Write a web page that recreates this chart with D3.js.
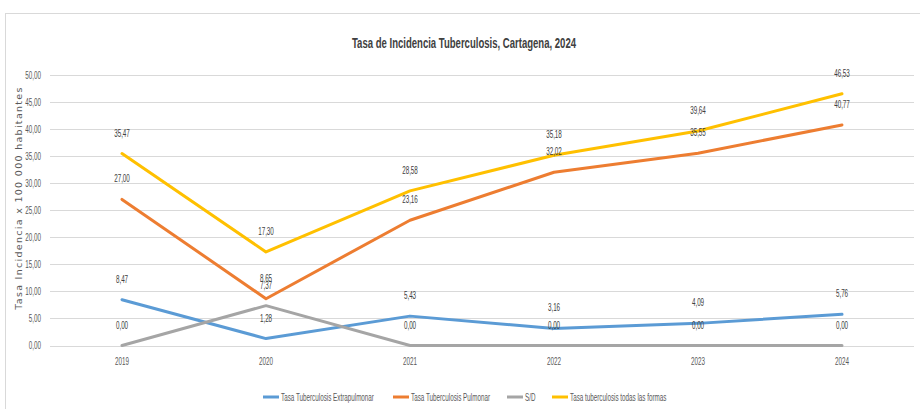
<!DOCTYPE html>
<html>
<head>
<meta charset="utf-8">
<script src="https://cdn.jsdelivr.net/npm/d3@7"></script>
<style>
  body { margin: 0; background: #fff; }
  svg { display: block; }
  text { font-family: "Liberation Sans", Arial, sans-serif; }
</style>
</head>
<body>
<svg id="chart"></svg>
<script>
// datos
var years = ["2019", "2020", "2021", "2022", "2023", "2024"];
var extrapulmonar = [8.47, 1.28, 5.43, 3.16, 4.09, 5.76];
var pulmonar = [27.00, 8.65, 23.16, 32.02, 35.55, 40.77];
var sinDato = [0.00, 7.37, 0.00, 0.00, 0.00, 0.00];
var todas = [35.47, 17.30, 28.58, 35.18, 39.64, 46.53];
var yTicks = [0, 5, 10, 15, 20, 25, 30, 35, 40, 45, 50];

var series = [
  { name: "Tasa Tuberculosis Extrapulmonar", values: extrapulmonar, color: "#5B9BD5" },
  { name: "Tasa Tuberculosis Pulmonar", values: pulmonar, color: "#ED7D31" },
  { name: "S/D", values: sinDato, color: "#A5A5A5" },
  { name: "Tasa tuberculosis todas las formas", values: todas, color: "#FFC000" }
];

var W = 920, H = 409;
var margin = { top: 75, right: 6, bottom: 63, left: 50 };

var SX = 0.6; // la fuente del original es muy estrecha
var FS = "10.5px";

var fmt = function(v) { return v.toFixed(2).replace(".", ","); };

// pasa x/y a un transform con escala horizontal
function squeeze(sel, sx) {
  sel.each(function() {
    var t = d3.select(this);
    var tx = +t.attr("x") || 0, ty = +t.attr("y") || 0;
    t.attr("x", null).attr("y", null)
     .attr("transform", "translate(" + tx + "," + ty + ") scale(" + sx + ",1)");
  });
}

var svg = d3.select("#chart")
    .attr("width", W)
    .attr("height", H);

// borde del area del grafico
svg.append("rect")
    .attr("x", 5.5)
    .attr("y", 13.5)
    .attr("width", W)
    .attr("height", H)
    .attr("fill", "none")
    .attr("stroke", "#d9d9d9");

var g = svg.append("g")
    .attr("transform", "translate(" + margin.left + "," + margin.top + ")");

var x = d3.scaleBand()
    .domain(years)
    .range([0, 864]);

var y = d3.scaleLinear()
    .domain([0, 50])
    .range([270.5, 0]);

var cx = function(i) { return x(years[i]) + x.bandwidth() / 2; };

// lineas de cuadricula
g.append("g")
    .selectAll("line")
    .data(yTicks)
    .enter().append("line")
    .attr("x1", 0)
    .attr("x2", 864)
    .attr("y1", function(d) { return Math.round(y(d)) + 0.5; })
    .attr("y2", function(d) { return Math.round(y(d)) + 0.5; })
    .attr("stroke", "#d9d9d9")
    .attr("stroke-width", 1);

var yAxis = g.append("g")
    .call(d3.axisLeft(y).tickValues(yTicks).tickFormat(fmt).tickSize(0).tickPadding(9));
yAxis.select(".domain").remove();
yAxis.selectAll("text")
    .attr("fill", "#595959")
    .style("font-size", FS);
squeeze(yAxis.selectAll("text"), SX);
yAxis.attr("font-family", null);

var xAxis = g.append("g")
    .attr("transform", "translate(0," + y(0) + ")")
    .call(d3.axisBottom(x).tickSize(0).tickPadding(12));
xAxis.select(".domain").remove();
xAxis.selectAll("text")
    .attr("fill", "#595959")
    .style("font-size", FS);
squeeze(xAxis.selectAll("text"), SX);
xAxis.attr("font-family", null);

var line = d3.line()
    .x(function(d, i) { return cx(i); })
    .y(function(d) { return y(d); });

series.forEach(function(s) {
  g.append("path")
      .datum(s.values)
      .attr("fill", "none")
      .attr("stroke", s.color)
      .attr("stroke-width", 3)
      .attr("stroke-linejoin", "round")
      .attr("stroke-linecap", "round")
      .attr("d", line);
});

// etiquetas de datos
series.forEach(function(s) {
  var lbl = g.append("g")
      .selectAll("text")
      .data(s.values)
      .enter().append("text")
      .attr("x", function(d, i) { return cx(i); })
      .attr("y", function(d) { return y(d) - 17; })
      .attr("text-anchor", "middle")
      .attr("fill", "#404040")
      .style("font-size", FS)
      .text(fmt);
  squeeze(lbl, SX);
});

// titulo
svg.append("text")
    .attr("x", 352)
    .attr("y", 48)
    .attr("fill", "#404040")
    .attr("textLength", 224)
    .attr("lengthAdjust", "spacingAndGlyphs")
    .style("font-size", "15px")
    .style("font-weight", "bold")
    .text("Tasa de Incidencia Tuberculosis, Cartagena, 2024");

// titulo eje y
svg.append("text")
    .attr("transform", "translate(22,198) rotate(-90)")
    .attr("text-anchor", "middle")
    .attr("fill", "#595959")
    .style("font-family", "DejaVu Sans, sans-serif")
    .style("font-size", "9.5px")
    .style("letter-spacing", "1.3px")
    .text("Tasa Incidencia x 100 000 habitantes");

// leyenda
var legendX = [263, 393, 507, 552];
var legend = svg.append("g");
series.forEach(function(s, i) {
  legend.append("line")
      .attr("x1", legendX[i])
      .attr("x2", legendX[i] + 16)
      .attr("y1", 397)
      .attr("y2", 397)
      .attr("stroke", s.color)
      .attr("stroke-width", 3);
  var t = legend.append("text")
      .attr("x", legendX[i] + 18)
      .attr("y", 400.5)
      .attr("fill", "#595959")
      .style("font-size", FS)
      .text(s.name);
  squeeze(t, SX);
});
</script>
</body>
</html>
